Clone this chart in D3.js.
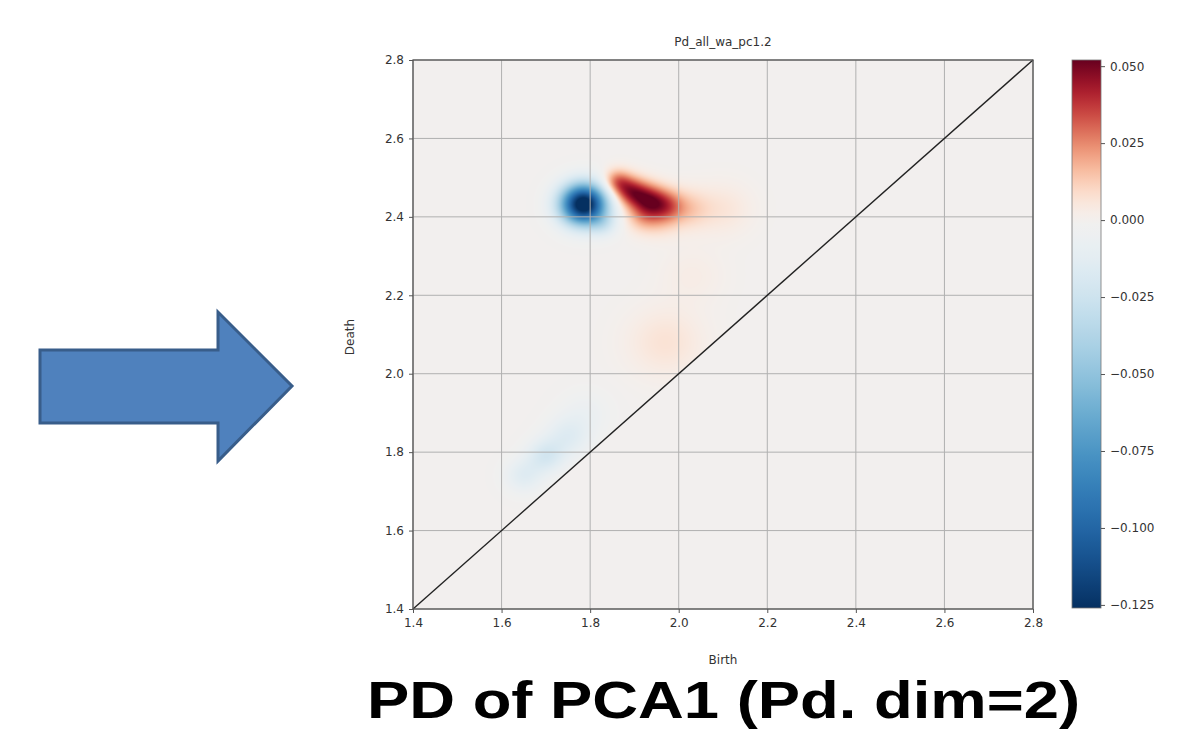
<!DOCTYPE html>
<html>
<head>
<meta charset="utf-8">
<script src="https://cdn.jsdelivr.net/npm/d3@7"></script>
<style>
  body { margin: 0; background: #fff; }
  svg text { font-family: 'DejaVu Sans', sans-serif; fill: #333; }
</style>
</head>
<body>
<svg id="chart" width="1191" height="731"></svg>
<script>
/* =======================================================================
   Persistence image - Pd_all_wa_pc1.2
   ======================================================================= */

/* Data
======================================================================= */
var xTicks = [1.4, 1.6, 1.8, 2.0, 2.2, 2.4, 2.6, 2.8], // Birth ticks
    yTicks = [1.4, 1.6, 1.8, 2.0, 2.2, 2.4, 2.6, 2.8], // Death ticks
    colorTicks = [0.05, 0.025, 0, -0.025, -0.05, -0.075, -0.1, -0.125], // Colorbar ticks
    colorRange = [-0.126, 0.052]; // Colorbar min / max

// Weighted persistence points (kernel centres)
var pointBirth  = [1.785, 1.830, 1.860, 1.890, 1.930, 1.970, 2.020, 2.100, 1.920, 1.960, 1.970, 2.030, 1.650, 1.700, 1.750, 1.790],
    pointDeath  = [2.432, 2.380, 2.490, 2.465, 2.445, 2.430, 2.420, 2.420, 2.400, 2.390, 2.080, 2.250, 1.740, 1.790, 1.840, 1.900],
    pointWeight = [-0.140, -0.015, 0.025, 0.035, 0.035, 0.025, 0.012, 0.006, 0.015, 0.008, 0.007, 0.003, -0.014, -0.020, -0.014, -0.006],
    pointSpread = [0.036, 0.022, 0.022, 0.026, 0.028, 0.028, 0.035, 0.045, 0.028, 0.030, 0.060, 0.050, 0.030, 0.030, 0.035, 0.040];

/* Layout
======================================================================= */
var plot = { left: 413, top: 60, right: 1033, bottom: 609 },
    cbar = { left: 1072, right: 1101, top: 60, bottom: 608 },
    svg = d3.select('#chart');

var x = d3.scaleLinear().domain([1.4, 2.8]).range([plot.left, plot.right]),
    y = d3.scaleLinear().domain([1.4, 2.8]).range([plot.bottom, plot.top]),
    cy = d3.scaleLinear().domain(colorRange).range([cbar.bottom, cbar.top]),
    color = d3.scaleDiverging()
              .domain([colorRange[0], 0, colorRange[1]])
              .interpolator(function(t) { return d3.interpolateRdBu(1 - t); })
              .clamp(true);

/**
 * Value of the persistence image at (birth, death)
 */
function valueAt(b, d) {
  if (d < b) return 0; // Nothing below the diagonal
  var v = 0;
  for (var i = 0; i < pointBirth.length; i++) {
    var db = b - pointBirth[i], dd = d - pointDeath[i], s = pointSpread[i];
    v += pointWeight[i] * Math.exp(-(db * db + dd * dd) / (2 * s * s));
  }
  return v;
}

/* Heatmap
======================================================================= */
function drawImage() {
  var w = plot.right - plot.left, h = plot.bottom - plot.top,
      canvas = document.createElement('canvas');
  canvas.width = w; canvas.height = h;
  var ctx = canvas.getContext('2d'),
      img = ctx.createImageData(w, h);

  for (var py = 0; py < h; py++) {
    var d = y.invert(plot.top + py + 0.5);
    for (var px = 0; px < w; px++) {
      var b = x.invert(plot.left + px + 0.5),
          c = d3.rgb(color(valueAt(b, d))),
          k = (py * w + px) * 4;
      img.data[k] = c.r; img.data[k + 1] = c.g; img.data[k + 2] = c.b; img.data[k + 3] = 255;
    }
  }
  ctx.putImageData(img, 0, 0);

  svg.append('image')
     .attr('x', plot.left).attr('y', plot.top)
     .attr('width', w).attr('height', h)
     .attr('href', canvas.toDataURL());
}

/* Axes, grid, diagonal
======================================================================= */
function drawAxes() {
  // Grid lines
  svg.append('g').selectAll('line').data(xTicks).enter().append('line')
     .attr('x1', function(d) { return x(d); }).attr('x2', function(d) { return x(d); })
     .attr('y1', plot.top).attr('y2', plot.bottom)
     .attr('stroke', '#b0b0b0').attr('stroke-width', 1);
  svg.append('g').selectAll('line').data(yTicks).enter().append('line')
     .attr('y1', function(d) { return y(d); }).attr('y2', function(d) { return y(d); })
     .attr('x1', plot.left).attr('x2', plot.right)
     .attr('stroke', '#b0b0b0').attr('stroke-width', 1);

  // Diagonal birth = death
  svg.append('line')
     .attr('x1', x(1.4)).attr('y1', y(1.4)).attr('x2', x(2.8)).attr('y2', y(2.8))
     .attr('stroke', '#222').attr('stroke-width', 1.4);

  // Frame
  svg.append('rect')
     .attr('x', plot.left).attr('y', plot.top)
     .attr('width', plot.right - plot.left).attr('height', plot.bottom - plot.top)
     .attr('fill', 'none').attr('stroke', '#555').attr('stroke-width', 1.3);

  var fmt = d3.format('.1f');

  var gx = svg.append('g').attr('transform', 'translate(0,' + plot.bottom + ')')
              .call(d3.axisBottom(x).tickValues(xTicks).tickFormat(fmt).tickSize(4).tickPadding(5));
  var gy = svg.append('g').attr('transform', 'translate(' + plot.left + ',0)')
              .call(d3.axisLeft(y).tickValues(yTicks).tickFormat(fmt).tickSize(4).tickPadding(5));
  [gx, gy].forEach(function(g) {
    g.select('.domain').remove();
    g.selectAll('line').attr('stroke', '#555');
    g.selectAll('text').attr('font-size', 12).attr('fill', '#333');
  });

  // Labels and title
  svg.append('text').attr('x', (plot.left + plot.right) / 2).attr('y', 664)
     .attr('text-anchor', 'middle').attr('font-size', 12).text('Birth');
  svg.append('text').attr('transform', 'translate(354,337) rotate(-90)')
     .attr('text-anchor', 'middle').attr('font-size', 12).text('Death');
  svg.append('text').attr('x', (plot.left + plot.right) / 2).attr('y', 46)
     .attr('text-anchor', 'middle').attr('font-size', 12).text('Pd_all_wa_pc1.2');
}

/* Colorbar
======================================================================= */
function drawColorbar() {
  var grad = svg.append('defs').append('linearGradient')
                .attr('id', 'cbar-grad')
                .attr('x1', 0).attr('x2', 0).attr('y1', 1).attr('y2', 0);
  grad.selectAll('stop').data(d3.range(0, 1.0001, 0.02)).enter().append('stop')
      .attr('offset', function(t) { return t; })
      .attr('stop-color', function(t) { return color(colorRange[0] + t * (colorRange[1] - colorRange[0])); });

  svg.append('rect')
     .attr('x', cbar.left).attr('y', cbar.top)
     .attr('width', cbar.right - cbar.left).attr('height', cbar.bottom - cbar.top)
     .attr('fill', 'url(#cbar-grad)').attr('stroke', '#777').attr('stroke-width', 0.8);

  var ga = svg.append('g').attr('transform', 'translate(' + cbar.right + ',0)')
              .call(d3.axisRight(cy).tickValues(colorTicks).tickFormat(function(d) {
                return d3.format('.3f')(d).replace('-', '\u2212');
              }).tickSize(4).tickPadding(5));
  ga.select('.domain').remove();
  ga.selectAll('line').attr('stroke', '#555');
  ga.selectAll('text').attr('font-size', 12).attr('fill', '#333');
}

/* Arrow and caption
======================================================================= */
function drawDecor() {
  var arrow = [[40, 350], [218, 350], [218, 312], [292, 386], [218, 461], [218, 423], [40, 423]];
  svg.append('path')
     .attr('d', d3.line()(arrow) + 'Z')
     .attr('fill', '#4f81bd').attr('stroke', '#385d8a').attr('stroke-width', 3);

  svg.append('text')
     .attr('x', 367).attr('y', 718)
     .attr('textLength', 713).attr('lengthAdjust', 'spacingAndGlyphs')
     .style('font-family', "'Liberation Sans', Arial, sans-serif")
     .style('font-weight', 'bold').style('font-size', '52px').style('fill', '#000')
     .text('PD of PCA1 (Pd. dim=2)');
}

/* Logic
======================================================================= */
drawImage();
drawAxes();
drawColorbar();
drawDecor();
</script>
</body>
</html>
